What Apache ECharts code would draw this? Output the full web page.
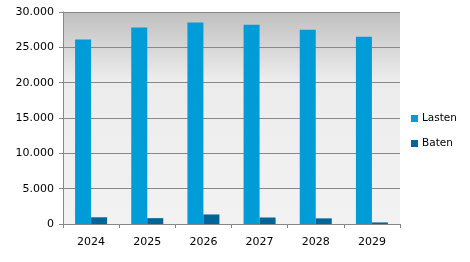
<!DOCTYPE html>
<html><head><meta charset="utf-8">
<script src="https://cdn.jsdelivr.net/npm/echarts@6/dist/echarts.min.js"></script>
<style>html,body{margin:0;padding:0;background:#fff}#c{width:470px;height:262px}</style>
</head><body><div id="c"></div>
<script>
var categories = ['2024','2025','2026','2027','2028','2029'];
var lasten = [26100, 27800, 28500, 28200, 27500, 26500];
var baten = [950, 830, 1350, 920, 800, 220];
var yMin = 0, yMax = 30000, yStep = 5000;

var chart = echarts.init(document.getElementById('c'), null, {renderer:'canvas'});
var font = 'Tahoma, "DejaVu Sans", sans-serif';
chart.setOption({
  animation: false,
  grid: {left: 63, right: 70, top: 12, bottom: 38, show: true, borderWidth: 0,
    backgroundColor: {type:'linear', x:0, y:0, x2:0, y2:1, colorStops:[
      {offset:0, color:'#c0c0c0'}, {offset:0.32, color:'#ececec'}, {offset:1, color:'#f2f2f2'}]}},
  legend: {orient:'vertical', left: 411, top: 113, padding: 0, itemWidth: 7, itemHeight: 7, itemGap: 14,
    icon: 'rect', textStyle: {fontFamily: font, fontSize: 10.5, color:'#000', padding:[0,0,0,-1]},
    data: ['Lasten','Baten']},
  xAxis: {type:'category', data: categories,
    axisLine: {lineStyle:{color:'#888'}},
    axisTick: {show:true, length:4, lineStyle:{color:'#888'}},
    axisLabel: {fontFamily: font, fontSize: 11, color:'#000', margin: 13}},
  yAxis: {type:'value', min: yMin, max: yMax, interval: yStep,
    axisLine: {show:true, lineStyle:{color:'#888'}},
    axisTick: {show:true, length:4, lineStyle:{color:'#888'}},
    splitLine: {lineStyle:{color:'#888'}},
    axisLabel: {fontFamily: font, fontSize: 11, color:'#000', margin: 9,
      formatter: function(v){ return v === 0 ? '0' : (v/1000).toFixed(3); }}},
  series: [
    {name:'Lasten', type:'bar', data: lasten, itemStyle:{color:'#009cd8'}, barGap:'0%', barCategoryGap:'43%'},
    {name:'Baten', type:'bar', data: baten, itemStyle:{color:'#006699'}, barGap:'0%', barCategoryGap:'43%'}
  ]
});
</script></body></html>
